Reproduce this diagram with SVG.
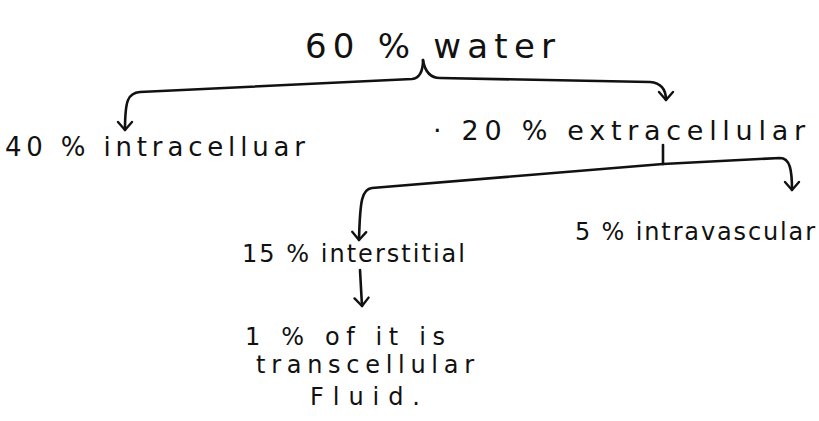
<svg xmlns="http://www.w3.org/2000/svg" width="819" height="421" viewBox="0 0 819 421">
<style>
text{font-family:"DejaVu Sans","Liberation Sans",sans-serif;fill:#111;}
.c{fill:none;stroke:#111;stroke-width:2.6;stroke-linecap:round;stroke-linejoin:round;}
</style>
<defs>
<marker id="v" viewBox="-10 -9 12 18" refX="0" refY="0" markerWidth="12" markerHeight="18" markerUnits="userSpaceOnUse" orient="auto">
<path d="M-8,-7 L0,0 L-8,7" fill="none" stroke="#111" stroke-width="2.4" stroke-linecap="round" stroke-linejoin="round"/>
</marker>
</defs>
<rect width="819" height="421" fill="#fff"/>
<g id="connectors">
<path class="c" d="M423,60 C423,70 420,78 412,79 L140,92 C128,93 125,100 125,130" marker-end="url(#v)"/>
<path class="c" d="M423,60 C425,72 430,78 440,78 L650,82 C662,83 666,90 666,100" marker-end="url(#v)"/>
<path class="c" d="M663,145 L663,164"/>
<path class="c" d="M663,164 L372,188 C362,189 360,200 359,240" marker-end="url(#v)"/>
<path class="c" d="M663,164 L780,158 C790,158 792,170 792,190" marker-end="url(#v)"/>
<path class="c" d="M360,270 L362,306" marker-end="url(#v)"/>
</g>
<g id="water"><text x="305" y="58" font-size="34" textLength="250" lengthAdjust="spacing">60 %  water</text></g>
<g id="intracellular"><text x="5" y="156" font-size="26" textLength="300" lengthAdjust="spacing">40 % intracelluar</text></g>
<g id="extracellular"><text x="433" y="140" font-size="27" textLength="372" lengthAdjust="spacing">· 20 % extracellular</text></g>
<g id="interstitial"><text x="242" y="262" font-size="24" textLength="223" lengthAdjust="spacing">15 % interstitial</text></g>
<g id="intravascular"><text x="575" y="240" font-size="24" textLength="240" lengthAdjust="spacing">5 % intravascular</text></g>
<g id="transcellular">
<text x="245" y="345" font-size="24" textLength="200" lengthAdjust="spacing">1 % of it is</text>
<text x="256" y="373" font-size="24" textLength="218" lengthAdjust="spacing">transcellular</text>
<text x="310" y="405" font-size="24" textLength="110" lengthAdjust="spacing">Fluid.</text>
</g>
</svg>
